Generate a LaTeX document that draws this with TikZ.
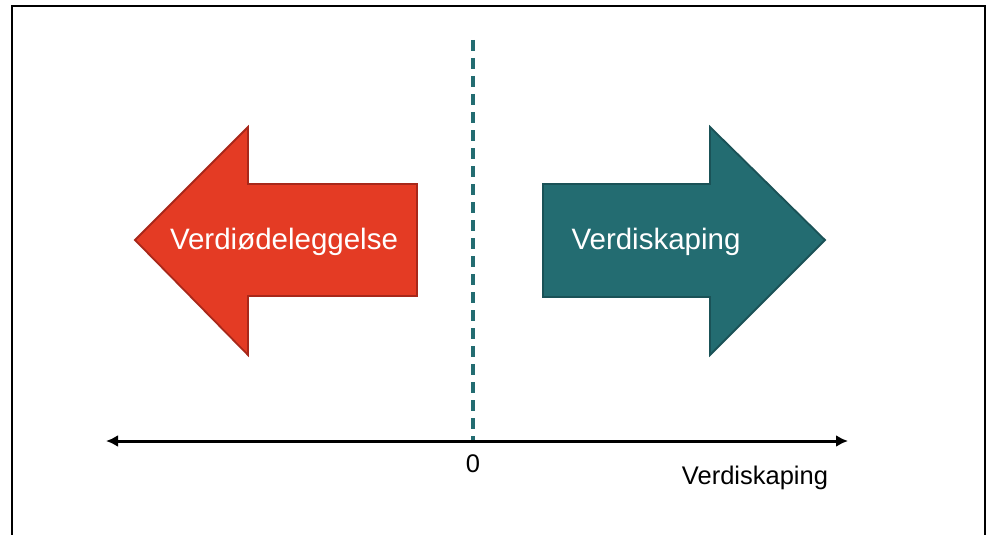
\documentclass[tikz,border=0pt]{standalone}
\usepackage{fontspec}
\setmainfont{Liberation Sans}
\usetikzlibrary{arrows.meta}
\definecolor{redfill}{HTML}{E43B24}
\definecolor{redline}{HTML}{A8281A}
\definecolor{tealfill}{HTML}{236C71}
\definecolor{tealline}{HTML}{1A5257}
\begin{document}
\begin{tikzpicture}[x=1pt,y=-1pt,
  bigarrow/.style={line width=1.8pt, line join=miter},
  arrowtext/.style={text=white, font=\fontsize{29.5}{34}\selectfont},
  axis/.style={line width=3pt, {Latex[length=12pt,width=12pt]}-{Latex[length=12pt,width=12pt]}},
  axislabel/.style={font=\fontsize{25.5}{30}\selectfont}]
\useasboundingbox (0,0) rectangle (986,535);
\draw[line width=2pt] (12,545) -- (12,6) -- (985,6) -- (985,545);
% dashed zero line
\coordinate (ztop) at (473,40);
\coordinate (zbot) at (473,441);
\draw[tealfill, line width=3.3pt, dash pattern=on 11pt off 7pt] (ztop) -- (zbot);
% left arrow
\draw[bigarrow, fill=redfill, draw=redline]
  (135,240) -- (248,127) -- (248,184) -- (417,184) -- (417,296) -- (248,296) -- (248,355) -- cycle;
\node[arrowtext] (left) at (284,242) {Verdiødeleggelse};
% right arrow
\draw[bigarrow, fill=tealfill, draw=tealline]
  (543,184) -- (710,184) -- (710,127) -- (825,240) -- (710,355) -- (710,297) -- (543,297) -- cycle;
\node[arrowtext] (right) at (656,242) {Verdiskaping};
% axis
\coordinate (axl) at (106,441);
\coordinate (axr) at (848,441);
\draw[axis] (axl) -- (axr);
\node[axislabel] (zero) at (473,464) {0};
\node[axislabel] (xlabel) at (755,478) {Verdiskaping};
\end{tikzpicture}
\end{document}
